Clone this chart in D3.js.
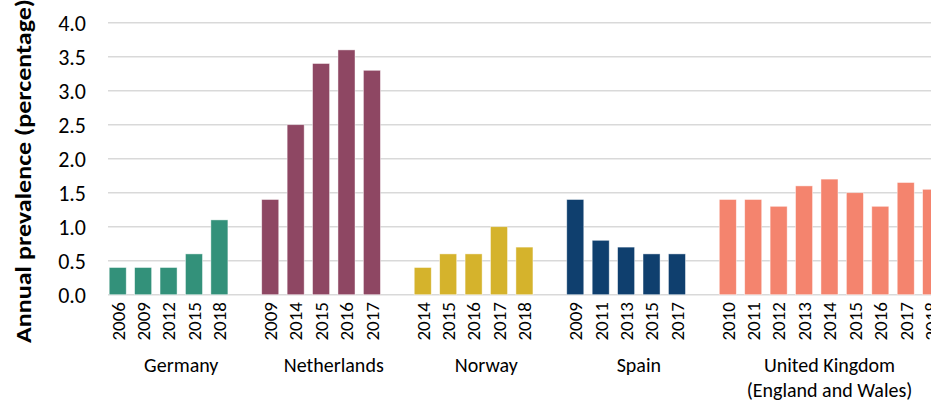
<!DOCTYPE html>
<html>
<head>
<meta charset="utf-8">
<script src="https://cdn.jsdelivr.net/npm/d3@7"></script>
<style>
  body { margin: 0; background: #fff; }
  svg { display: block; font-family: Carlito, Calibri, Lato, sans-serif; }
  .tick-label { font-size: 22px; fill: #000; }
  .year-label { font-size: 19px; fill: #000; }
  .group-label { font-size: 20px; fill: #000; }
  .axis-title { font-size: 23px; font-weight: bold; fill: #000; }
</style>
</head>
<body>
<div id="chart"></div>
<script>
// chart data
const countries = ["Germany", "Netherlands", "Norway", "Spain", "United Kingdom"];
const groupLines = [["Germany"], ["Netherlands"], ["Norway"], ["Spain"], ["United Kingdom", "(England and Wales)"]];
const years = [
   ["2006", "2009", "2012", "2015", "2018"],
   ["2009", "2014", "2015", "2016", "2017"],
   ["2014", "2015", "2016", "2017", "2018"],
   ["2009", "2011", "2013", "2015", "2017"],
   ["2010", "2011", "2012", "2013", "2014", "2015", "2016", "2017", "2018"]
];
const values = [
   [0.4, 0.4, 0.4, 0.6, 1.1],
   [1.4, 2.5, 3.4, 3.6, 3.3],
   [0.4, 0.6, 0.6, 1.0, 0.7],
   [1.4, 0.8, 0.7, 0.6, 0.6],
   [1.4, 1.4, 1.3, 1.6, 1.7, 1.5, 1.3, 1.65, 1.55]
];
const colors = ["#33917a", "#8e4763", "#d5b32c", "#0f3f6e", "#f4846e"];
const yTicks = [0, 0.5, 1, 1.5, 2, 2.5, 3, 3.5, 4];

// sizes
const wide = 931;
const high = 403;

// flatten into slots, a blank slot after each group except the last
var slots = [];
var bars = [];
var groups = [];
countries.forEach((c, g) => {
   var first = slots.length;
   years[g].forEach((yr, i) => {
      var key = c + "|" + yr;
      slots.push(key);
      bars.push({ key: key, year: yr, value: values[g][i], group: g });
   });
   if (g < countries.length - 1) slots.push("blank" + g);
   groups.push({ first: slots[first], last: slots[slots.length - 1], lines: groupLines[g] });
});

const x = d3
   .scaleBand()
   .domain(slots)
   .range([105, 105 + slots.length * 25.42])
   .paddingInner(0.33)
   .paddingOuter(0.165);

const y = d3.scaleLinear().domain([0, 4]).range([294.7, 22.7]);

var svg = d3
   .select("#chart")
   .append("svg")
   .attr("width", wide)
   .attr("height", high);

// gridlines
svg.append("g")
   .selectAll("line")
   .data(yTicks)
   .enter()
   .append("line")
   .attr("x1", 108)
   .attr("x2", x.range()[1])
   .attr("y1", (d) => y(d))
   .attr("y2", (d) => y(d))
   .attr("stroke", "#d9d9d9")
   .attr("stroke-width", 1.5);

// y tick labels
svg.append("g")
   .selectAll("text")
   .data(yTicks)
   .enter()
   .append("text")
   .attr("class", "tick-label")
   .attr("x", 86)
   .attr("y", (d) => y(d))
   .attr("dy", "0.36em")
   .attr("text-anchor", "end")
   .text((d) => d.toFixed(1));

// bars
svg.append("g")
   .selectAll("rect")
   .data(bars)
   .enter()
   .append("rect")
   .attr("x", (d) => x(d.key))
   .attr("y", (d) => y(d.value))
   .attr("width", x.bandwidth())
   .attr("height", (d) => y(0) - y(d.value))
   .attr("fill", (d) => colors[d.group])
   .attr("stroke", "#ffffff")
   .attr("stroke-opacity", 0.6)
   .attr("stroke-width", 0.75);

// year labels
svg.append("g")
   .selectAll("text")
   .data(bars)
   .enter()
   .append("text")
   .attr("class", "year-label")
   .attr("transform", (d) => "translate(" + (x(d.key) + x.bandwidth() / 2) + ",302) rotate(-90)")
   .attr("dy", "0.36em")
   .attr("text-anchor", "end")
   .text((d) => d.year);

// group labels
var gl = svg.append("g")
   .selectAll("text")
   .data(groups)
   .enter()
   .append("text")
   .attr("class", "group-label")
   .attr("text-anchor", "middle")
   .attr("x", (d) => (x(d.first) - x.step() * x.paddingInner() / 2 + x(d.last) + x.bandwidth() + x.step() * x.paddingInner() / 2) / 2)
   .attr("y", 372);

gl.selectAll("tspan")
   .data((d) => d.lines)
   .enter()
   .append("tspan")
   .attr("x", function () { return this.parentNode.getAttribute("x"); })
   .attr("dy", (d, i) => (i === 0 ? 0 : 24.5))
   .text((d) => d);

// y axis title
svg.append("text")
   .attr("class", "axis-title")
   .attr("transform", "translate(23,171) rotate(-90)")
   .attr("text-anchor", "middle")
   .attr("dy", "0.36em")
   .attr("textLength", 344)
   .attr("lengthAdjust", "spacingAndGlyphs")
   .text("Annual prevalence (percentage)");
</script>
</body>
</html>
